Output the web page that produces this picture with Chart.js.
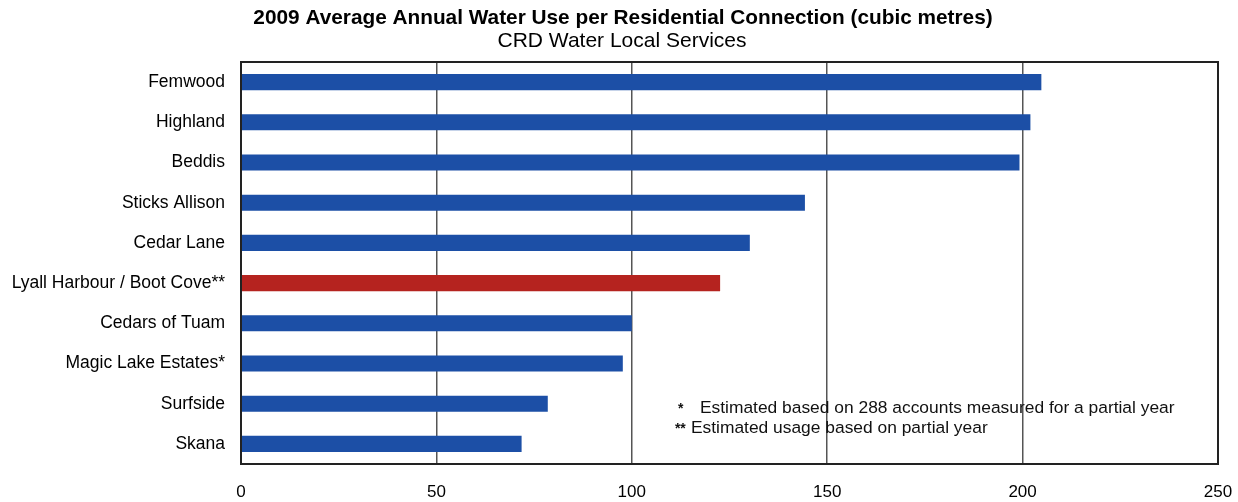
<!DOCTYPE html>
<html>
<head>
<meta charset="utf-8">
<script src="https://cdn.jsdelivr.net/npm/chart.js@4.4.0/dist/chart.umd.min.js"></script>
<style>
  html, body { margin: 0; padding: 0; background: #fff; }
  #wrap { width: 1238px; height: 502px; }
</style>
</head>
<body>
<div id="wrap"><canvas id="waterChart"></canvas></div>
<script>
// === Data ===
const services = [
  'Femwood', 'Highland', 'Beddis', 'Sticks Allison', 'Cedar Lane',
  'Lyall Harbour / Boot Cove**', 'Cedars of Tuam', 'Magic Lake Estates*', 'Surfside', 'Skana'
];
const usage = [204.8, 202.0, 199.2, 144.3, 130.2, 122.6, 100.0, 97.7, 78.5, 71.8];
const xTicks = [0, 50, 100, 150, 200, 250];
const titleText = '2009 Average Annual Water Use per Residential Connection (cubic metres)';
const subtitleText = 'CRD Water Local Services';
const footnotes = [
  ['*', 'Estimated based on 288 accounts measured for a partial year'],
  ['**', 'Estimated usage based on partial year']
];
const partialYear = 'Lyall Harbour / Boot Cove**';

const BLUE = '#1c4fa6';
const RED = '#b5231f';
const FONT = "'Liberation Sans', Arial, sans-serif";

// titles: the page centres them a bit right of the canvas middle
const titles = {
  id: 'titles',
  afterDraw(chart) {
    const { ctx } = chart;
    ctx.save();
    ctx.fillStyle = '#000';
    ctx.textAlign = 'center';
    ctx.textBaseline = 'middle';
    ctx.font = `bold 20.8px ${FONT}`;
    ctx.fillText(titleText, 623, 18);
    ctx.font = `21px ${FONT}`;
    ctx.fillText(subtitleText, 622, 41);
    ctx.restore();
  }
};

// frame around plot area
const frame = {
  id: 'frame',
  afterDraw(chart) {
    const { ctx, chartArea: a } = chart;
    ctx.save();
    ctx.strokeStyle = '#222';
    ctx.lineWidth = 2;
    ctx.strokeRect(a.left, a.top, a.right - a.left, a.bottom - a.top);
    ctx.restore();
  }
};

// footnote text inside plot
const notes = {
  id: 'notes',
  afterDraw(chart) {
    const { ctx } = chart;
    const x = chart.scales.x.getPixelForValue(111.8);
    const y0 = chart.scales.y.getPixelForValue(8) + 5;
    ctx.save();
    ctx.fillStyle = '#111';
    ctx.textBaseline = 'middle';
    footnotes.forEach(([mark, text], i) => {
      const y = y0 + i * 20;
      ctx.font = `bold 14px ${FONT}`;
      ctx.fillText(mark, x - (i ? 3 : 0), y);
      ctx.font = `17.4px ${FONT}`;
      ctx.fillText(text, x + (i ? 13 : 22), y);
    });
    ctx.restore();
  }
};

new Chart(document.getElementById('waterChart'), {
  type: 'bar',
  data: {
    labels: services,
    datasets: [{
      data: usage,
      backgroundColor: services.map(s => s === partialYear ? RED : BLUE),
      barPercentage: 0.8,
      categoryPercentage: 0.5
    }]
  },
  options: {
    indexAxis: 'y',
    responsive: true,
    maintainAspectRatio: false,
    animation: false,
    layout: { padding: { left: 0, right: 20, top: 62, bottom: 0 } },
    plugins: {
      legend: { display: false },
      tooltip: { enabled: false },
      title: { display: false }
    },
    scales: {
      x: {
        min: 0,
        max: 250,
        afterBuildTicks: s => { s.ticks = xTicks.map(v => ({ value: v })); },
        afterFit: s => { s.height = 38; s.paddingRight = 0; s.paddingLeft = 0; },
        grid: { color: '#555', lineWidth: 1.5, drawTicks: false },
        border: { display: false },
        ticks: { color: '#000', padding: 18, font: { family: FONT, size: 17 } }
      },
      y: {
        afterFit: s => { s.width = 241; },
        grid: { display: false, drawTicks: false },
        border: { display: false },
        ticks: { color: '#000', padding: 16, font: { family: FONT, size: 17.5 } }
      }
    }
  },
  plugins: [titles, frame, notes]
});
</script>
</body>
</html>
